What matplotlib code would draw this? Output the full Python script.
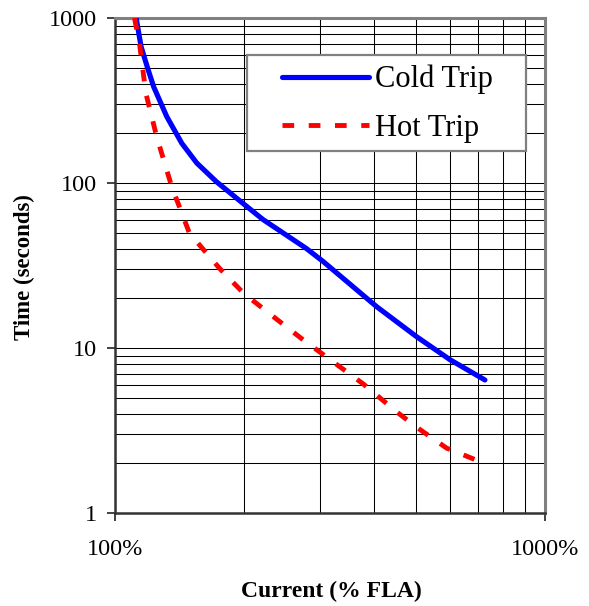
import matplotlib
matplotlib.use("Agg")
import matplotlib.pyplot as plt
from matplotlib.patches import Rectangle
from matplotlib.ticker import FixedLocator, FixedFormatter, LogLocator, NullFormatter

# trip curves (current in % FLA, time in seconds)
cold_current = [112, 115, 119, 123, 132, 143, 155, 172, 200, 221, 279, 305, 406, 503, 601, 725]
cold_time = [1000, 670, 500, 383, 252, 174, 132, 102, 74, 60, 40, 33.4, 17.8, 11.7, 8.5, 6.4]

hot_current = [111, 114, 118, 125, 135.5, 149, 175, 199, 242, 274, 302, 378, 452, 507, 591, 706]
hot_time = [1000, 702, 349, 191, 95, 49.6, 30.4, 21.5, 14.4, 11.2, 9.3, 6.05, 4.1, 3.26, 2.47, 2.05]

x_ticks = [100, 1000]
x_labels = ["100%", "1000%"]
y_ticks = [1, 10, 100, 1000]
y_labels = ["1", "10", "100", "1000"]

serif = ["Liberation Serif", "DejaVu Serif"]

fig = plt.figure(figsize=(5.89, 6.06), dpi=100)
ax = fig.add_axes([115 / 589, 1 - 513 / 606, 430 / 589, 495 / 606])

ax.set_xscale("log")
ax.set_yscale("log")
ax.set_xlim(100, 1000)
ax.set_ylim(1, 1000)

ax.plot(cold_current, cold_time, color="#0000ff", lw=3.7,
        solid_capstyle="round", solid_joinstyle="round", label="Cold Trip", zorder=3)
ax.plot(hot_current, hot_time, color="#ff0000", lw=3.5, linestyle=(0, (2.4, 3.0)),
        dash_capstyle="butt", label="Hot Trip", zorder=3)

ax.xaxis.set_major_locator(FixedLocator(x_ticks))
ax.xaxis.set_major_formatter(FixedFormatter(x_labels))
ax.yaxis.set_major_locator(FixedLocator(y_ticks))
ax.yaxis.set_major_formatter(FixedFormatter(y_labels))
ax.xaxis.set_minor_locator(LogLocator(base=10, subs=range(2, 10)))
ax.yaxis.set_minor_locator(LogLocator(base=10, subs=range(2, 10)))
ax.xaxis.set_minor_formatter(NullFormatter())
ax.yaxis.set_minor_formatter(NullFormatter())

ax.grid(which="both", color="black", lw=0.75, zorder=1)
ax.set_axisbelow(True)

ax.tick_params(which="major", direction="out", length=6, width=1.2, color="#222222")
ax.tick_params(which="minor", length=0)
ax.tick_params(axis="y", pad=7)
ax.tick_params(axis="x", pad=13)
for lab in ax.get_xticklabels() + ax.get_yticklabels():
    lab.set_fontfamily(serif)
    lab.set_fontsize(17.5)

for side in ["top", "right"]:
    ax.spines[side].set_color("#808080")
    ax.spines[side].set_linewidth(2.2)
for side in ["left", "bottom"]:
    ax.spines[side].set_color("#333333")
    ax.spines[side].set_linewidth(1.8)

# legend box
box = Rectangle(((247 - 115) / 430, (513 - 151) / 495), (526 - 247) / 430, (151 - 55) / 495,
                transform=ax.transAxes, facecolor="white", edgecolor="#808080",
                lw=1.6, zorder=4)
ax.add_patch(box)
leg = ax.legend(loc="center left", bbox_to_anchor=((282 - 115) / 430, (513 - 104) / 495),
                frameon=False, borderpad=0, borderaxespad=0, handlelength=2.85,
                handletextpad=0.2, labelspacing=0.65, prop={"family": serif, "size": 22})
leg.set_zorder(5)

fig.text(24 / 589, 1 - 267 / 606, "Time (seconds)", rotation=90, ha="center", va="center",
         fontfamily=serif, fontsize=16.5, fontweight="bold")
fig.text(331 / 589, 1 - 591 / 606, "Current (% FLA)", ha="center", va="center",
         fontfamily=serif, fontsize=17, fontweight="bold")

fig.savefig("out.png", dpi=100, facecolor="white")
